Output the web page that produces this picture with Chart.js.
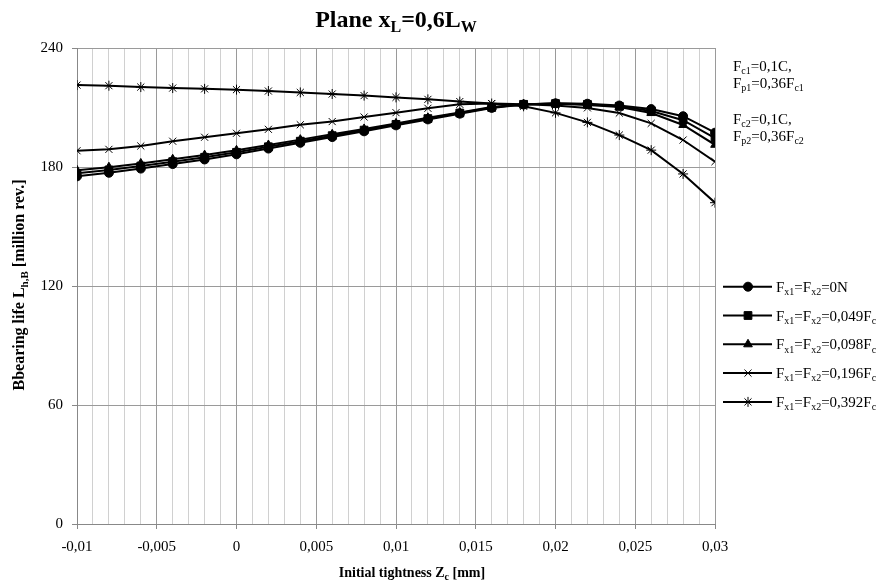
<!DOCTYPE html>
<html>
<head>
<meta charset="utf-8">
<script src="https://cdn.jsdelivr.net/npm/chart.js@4/dist/chart.umd.min.js"></script>
<style>
html,body{margin:0;padding:0;background:#fff;}
#wrap{width:885px;height:581px;position:relative;}
</style>
</head>
<body>
<div id="wrap"><canvas id="c" width="885" height="581"></canvas></div>
<script>
// ---------- DATA ----------
const xValues = [-0.01,-0.008,-0.006,-0.004,-0.002,0,0.002,0.004,0.006,0.008,0.01,0.012,0.014,0.016,0.018,0.02,0.022,0.024,0.026,0.028,0.03];
const seriesNames = ["F_{x1}=F_{x2}=0N","F_{x1}=F_{x2}=0,049F_{c}","F_{x1}=F_{x2}=0,098F_{c}","F_{x1}=F_{x2}=0,196F_{c}","F_{x1}=F_{x2}=0,392F_{c}"];
const life0N   = [175.3,177.1,179.2,181.5,183.8,186.4,189.3,192.2,195.1,198.0,201.0,204.0,206.9,209.8,211.5,212.1,211.9,211.0,209.2,205.6,197.3];
const life049  = [176.8,178.5,180.5,182.7,184.9,187.4,190.2,193.0,195.8,198.6,201.5,204.4,207.2,210.0,211.6,212.0,211.6,210.6,208.2,203.6,194.6];
const life098  = [178.3,179.9,181.8,183.9,186.0,188.4,191.1,193.8,196.5,199.2,202.0,204.8,207.5,210.2,211.7,211.9,211.3,210.2,207.2,201.2,191.2];
const life196  = [188.2,188.9,190.6,193.0,195.0,197.0,199.0,201.3,202.9,205.2,207.4,209.6,211.6,212.0,211.7,211.0,209.8,207.2,202.0,193.6,182.7];
const life392  = [221.3,221.0,220.3,219.8,219.4,219.0,218.3,217.6,216.8,216.0,215.1,214.1,213.0,212.0,210.6,207.3,202.5,196.1,188.5,176.5,162.0];
const xTickLabels = ["-0,01","-0,005","0","0,005","0,01","0,015","0,02","0,025","0,03"];
const yTickLabels = ["0","60","120","180","240"];
const titleText = "Plane x_{L}=0,6L_{W}";
const xAxisTitle = "Initial tightness Z_{c} [mm]";
const yAxisTitle = "Bbearing life L_{h,B} [million rev.]";
const noteLines = ["F_{c1}=0,1C,","F_{p1}=0,36F_{c1}","F_{c2}=0,1C,","F_{p2}=0,36F_{c2}"];

// ---------- STYLE ----------
const SERIF = '"Liberation Serif","Times New Roman",serif';
const styles = [
  {pointStyle:'circle',   radius:4.5, borderWidth:1},
  {pointStyle:'rect',     radius:5.5, borderWidth:1},
  {pointStyle:'triangle', radius:5,   borderWidth:1},
  {pointStyle:'crossRot', radius:5,   borderWidth:1},
  {pointStyle:'star',     radius:5,   borderWidth:1}
];
const allSeries = [life0N, life049, life098, life196, life392];

const datasets = allSeries.map((arr, i) => ({
  label: seriesNames[i],
  data: arr.map((v, j) => ({x: xValues[j], y: v})),
  borderColor: '#000',
  backgroundColor: '#000',
  borderWidth: 2,
  pointStyle: styles[i].pointStyle,
  pointRadius: styles[i].radius,
  pointBorderWidth: styles[i].borderWidth,
  pointBackgroundColor: '#000',
  pointBorderColor: '#000',
  tension: 0
}));

// rich text with _{subscript}
function parseRich(t){
  const parts=[]; let i=0; let buf='';
  while(i<t.length){
    if(t[i]==='_' && t[i+1]==='{'){
      if(buf){parts.push({t:buf,sub:false});buf='';}
      const e=t.indexOf('}',i);
      parts.push({t:t.slice(i+2,e),sub:true}); i=e+1;
    } else {buf+=t[i]; i++;}
  }
  if(buf) parts.push({t:buf,sub:false});
  return parts;
}
function richWidth(ctx, t, size, bold){
  let w=0;
  for(const p of parseRich(t)){
    ctx.font=(bold?'bold ':'')+(p.sub?Math.round(size*0.68):size)+'px '+SERIF;
    w+=ctx.measureText(p.t).width;
  }
  return w;
}
function drawRich(ctx, t, x, y, size, bold, align){
  let w = richWidth(ctx,t,size,bold);
  let cx = align==='center' ? x-w/2 : x;
  ctx.textBaseline='alphabetic'; ctx.textAlign='left';
  for(const p of parseRich(t)){
    const s = p.sub?Math.round(size*0.68):size;
    ctx.font=(bold?'bold ':'')+s+'px '+SERIF;
    ctx.fillText(p.t, cx, y + (p.sub? size*0.22:0));
    cx += ctx.measureText(p.t).width;
  }
}

const decor = {
  id:'decor',
  afterDraw(chart){
    const ctx=chart.ctx; const ca=chart.chartArea;
    ctx.save();
    ctx.fillStyle='#000';
    // title
    drawRich(ctx, titleText, (ca.left+ca.right)/2, 27, 24, true, 'center');
    // x title
    drawRich(ctx, xAxisTitle, 412, 577, 14, true, 'center');
    // y title
    ctx.save();
    ctx.translate(19, 285);
    ctx.rotate(-Math.PI/2);
    drawRich(ctx, yAxisTitle, 0, 5, 16, true, 'center');
    ctx.restore();
    // notes
    const noteY=[70.5,87.5,124,141];
    noteLines.forEach((l,i)=>drawRich(ctx,l,733,noteY[i],15,false,'left'));
    // legend
    for(let i=0;i<seriesNames.length;i++){
      const y = 286.7 + i*28.8;
      ctx.strokeStyle='#000'; ctx.lineWidth=2;
      ctx.beginPath(); ctx.moveTo(723,y); ctx.lineTo(772,y); ctx.stroke();
      ctx.fillStyle='#000'; ctx.lineWidth=styles[i].borderWidth;
      Chart.helpers.drawPoint(ctx,{pointStyle:styles[i].pointStyle,radius:styles[i].radius,rotation:0,borderWidth:styles[i].borderWidth},748,y);
      ctx.fillStyle='#000';
      drawRich(ctx, seriesNames[i], 776, y+5, 15, false, 'left');
    }
    ctx.restore();
  }
};

new Chart(document.getElementById('c'), {
  type:'line',
  data:{datasets},
  options:{
    responsive:false,
    animation:false,
    layout:{padding:{top:48,right:170,left:0,bottom:0}},
    plugins:{legend:{display:false},title:{display:false},tooltip:{enabled:false}},
    scales:{
      x:{
        type:'linear', min:-0.01, max:0.03,
        afterFit(s){ s.height=57; },
        ticks:{
          stepSize:0.001, autoSkip:false, maxRotation:0, minRotation:0,
          color:'#000', padding:9,
          font:{family:SERIF,size:15},
          callback(v){ const k=Math.round(v*1000); if(k%5!==0) return ''; return xTickLabels[(k+10)/5]; }
        },
        grid:{
          color(c){ const k=Math.round(c.tick.value*1000); return k%5===0?'#9a9a9a':'#d0d0d0'; },
          lineWidth:1,
          tickLength:5,
          tickColor(c){ const k=Math.round(c.tick.value*1000); return k%5===0?'#888':'rgba(0,0,0,0)'; }
        },
        border:{color:'#888',width:1}
      },
      y:{
        min:0, max:240,
        afterFit(s){ s.width=77; },
        ticks:{
          stepSize:60, color:'#000', padding:9,
          font:{family:SERIF,size:15},
          callback(v){ return yTickLabels[Math.round(v/60)]; }
        },
        grid:{color:'#9a9a9a', lineWidth:1, tickLength:5, tickColor:'#888'},
        border:{color:'#888',width:1}
      }
    }
  },
  plugins:[decor]
});
</script>
</body>
</html>
